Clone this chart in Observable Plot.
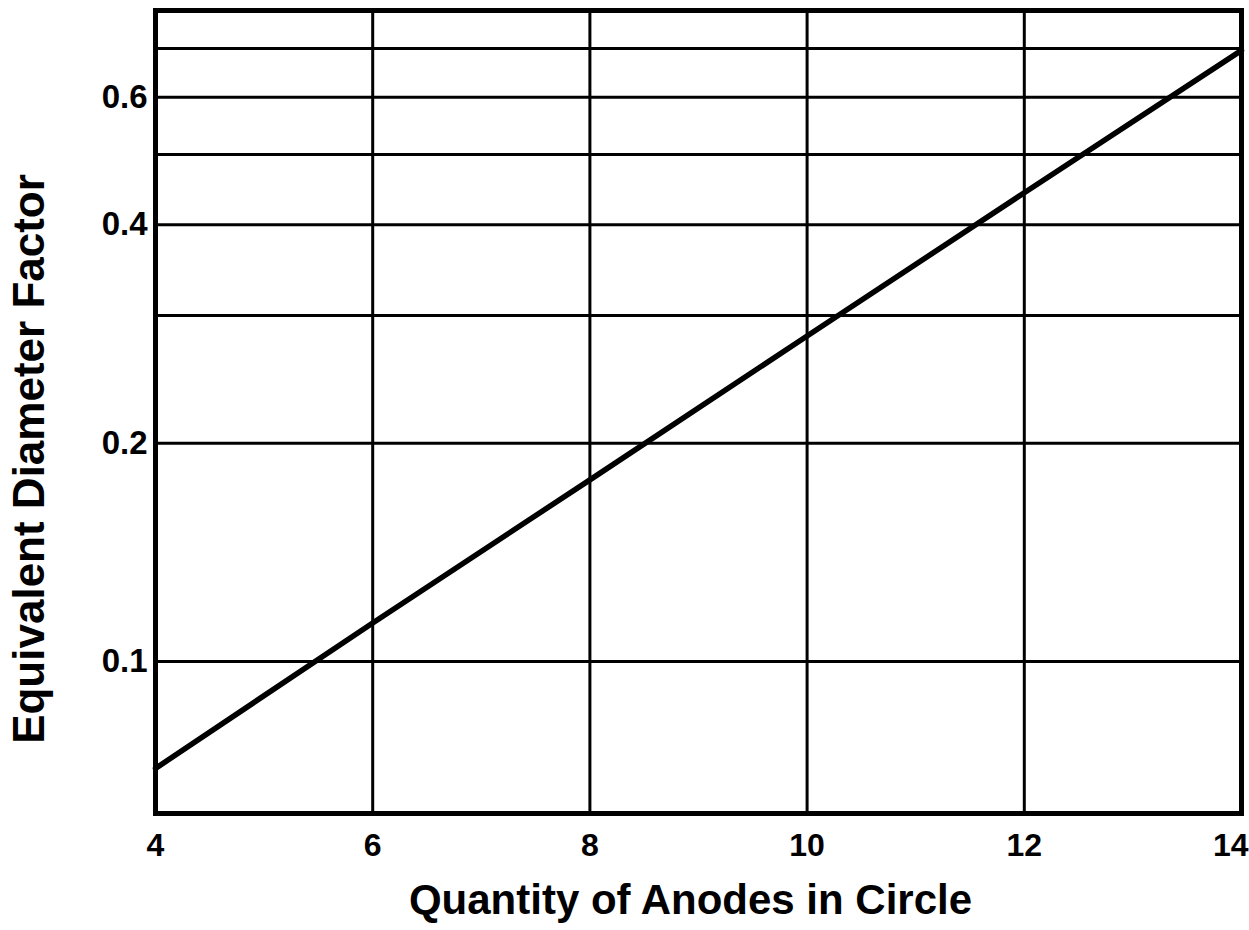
<!DOCTYPE html>
<html>
<head>
<meta charset="utf-8">
<script src="https://cdn.jsdelivr.net/npm/d3@7"></script>
<script src="https://cdn.jsdelivr.net/npm/@observablehq/plot@0.6"></script>
<style>
  html, body { margin: 0; padding: 0; background: #fff; }
  #chart svg { display: block; }
</style>
</head>
<body>
<div id="chart"></div>
<script>
const anodes = [4, 6, 8, 10, 12, 14];
const factor = [0.0712, 0.113, 0.178, 0.281, 0.443, 0.696];
const xTicks = [4, 6, 8, 10, 12];
const xTickLast = [14];
const yTickValues = [0.1, 0.2, 0.4, 0.6];
const yTickLabels = ["0.1", "0.2", "0.4", "0.6"];
const yGrid = [0.1, 0.2, 0.3, 0.4, 0.5, 0.6, 0.7];
const xGrid = [6, 8, 10, 12];
const xLabel = "Quantity of Anodes in Circle";
const yLabel = "Equivalent Diameter Factor";

const data = anodes.map((a, i) => ({anodes: a, factor: factor[i]}));
const font = "Liberation Sans";

const chart = Plot.plot({
  width: 1249,
  height: 930,
  marginLeft: 155,
  marginRight: 8,
  marginTop: 10,
  marginBottom: 117,
  style: {fontFamily: font, background: "#fff", color: "#000"},
  x: {domain: [4, 14]},
  y: {type: "log", domain: [0.0617, 0.79]},
  marks: [
    Plot.ruleY(yGrid, {stroke: "#000", strokeWidth: 3}),
    Plot.ruleX(xGrid, {stroke: "#000", strokeWidth: 3}),
    Plot.line(data, {x: "anodes", y: "factor", stroke: "#000", strokeWidth: 5.5}),
    Plot.frame({stroke: "#000", strokeWidth: 5}),
    Plot.axisX({ticks: xTicks, tickSize: 0, tickPadding: 20, fontSize: 32, fontWeight: "bold", label: null, tickFormat: d => String(d)}),
    Plot.axisX({ticks: xTickLast, tickSize: 0, tickPadding: 20, fontSize: 32, fontWeight: "bold", label: null, textAnchor: "end", dx: 7, tickFormat: d => String(d)}),
    Plot.axisY({ticks: yTickValues, tickSize: 0, tickPadding: 8, fontSize: 33, fontWeight: "bold", label: null,
      tickFormat: d => yTickLabels[yTickValues.indexOf(d)]}),
    Plot.text([xLabel], {frameAnchor: "bottom", dy: 100, dx: -8, fontSize: 42, fontWeight: "bold", fill: "#000"}),
    Plot.text([yLabel], {frameAnchor: "left", dx: -126, dy: 47, rotate: -90, textAnchor: "middle", fontSize: 44, fontWeight: "bold", fill: "#000"})
  ]
});
document.getElementById("chart").appendChild(chart);
</script>
</body>
</html>
